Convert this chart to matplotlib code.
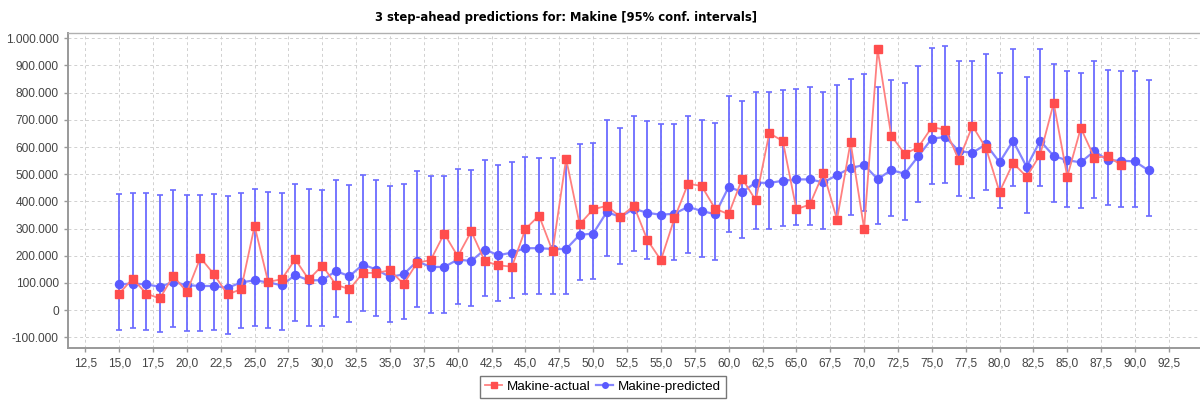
import matplotlib
matplotlib.use("Agg")
import matplotlib.pyplot as plt
from matplotlib.ticker import FuncFormatter, MultipleLocator

plt.rcParams["font.family"] = ["Liberation Sans", "DejaVu Sans"]

# observed values, periods 15..89
actual_x = list(range(15, 90))
actual = [
    61, 116, 61, 43, 126, 67, 193, 132, 58, 77,
    310, 104, 114, 187, 113, 164, 94, 77, 137, 137,
    147, 96, 175, 184, 282, 198, 290, 180, 165, 160,
    299, 348, 217, 557, 316, 371, 384, 343, 384, 258,
    184, 338, 465, 457, 373, 353, 484, 404, 651, 622,
    371, 389, 506, 333, 618, 300, 959, 642, 575, 599,
    673, 664, 553, 678, 596, 435, 541, 491, 572, 762,
    491, 670, 561, 566, 533,
]

# forecasts with 95% bounds, periods 15..91
pred_x = list(range(15, 92))
predicted = [
    95, 98, 95, 86, 104, 92, 89, 89, 82, 102,
    110, 102, 92, 129, 110, 110, 144, 125, 168, 149,
    122, 132, 180, 159, 159, 186, 181, 223, 202, 212,
    228, 228, 225, 225, 277, 282, 361, 343, 373, 358,
    351, 355, 380, 365, 353, 453, 435, 469, 468, 476,
    481, 481, 470, 497, 523, 534, 482, 515, 502, 566,
    631, 637, 585, 579, 610, 544, 623, 527, 623, 567,
    551, 544, 585, 551, 550, 547, 514,
]
upper = [
    427, 431, 431, 422, 441, 422, 422, 426, 419, 431,
    446, 436, 431, 464, 446, 441, 478, 460, 497, 478,
    457, 464, 511, 493, 493, 520, 515, 553, 534, 544,
    563, 558, 558, 558, 610, 615, 700, 670, 716, 694,
    684, 684, 713, 699, 688, 787, 769, 802, 802, 809,
    815, 819, 802, 829, 852, 867, 820, 847, 836, 899,
    965, 970, 917, 917, 942, 874, 960, 856, 960, 905,
    880, 874, 917, 884, 880, 880, 847,
]
lower = [
    -73, -67, -73, -82, -62, -78, -78, -73, -87, -67,
    -59, -67, -73, -40, -59, -59, -24, -45, -3, -21,
    -45, -34, 12, -9, -9, 21, 16, 53, 34, 44,
    58, 58, 58, 58, 111, 115, 198, 170, 219, 189,
    184, 184, 212, 197, 184, 287, 267, 300, 300, 309,
    315, 315, 300, 329, 351, 366, 316, 347, 333, 398,
    464, 468, 419, 413, 441, 376, 455, 358, 455, 398,
    381, 376, 413, 386, 381, 381, 347,
]

# thousands -> units
actual = [v * 1000 for v in actual]
predicted = [v * 1000 for v in predicted]
upper = [v * 1000 for v in upper]
lower = [v * 1000 for v in lower]

red = "#ff4d4d"
blue = "#5a5aff"

fig = plt.figure(figsize=(12, 4.01), dpi=100)
ax = fig.add_axes([0.0564, 0.1329, 0.9436, 0.7856])

err_lo = [p - l for p, l in zip(predicted, lower)]
err_hi = [u - p for u, p in zip(upper, predicted)]
ax.errorbar(pred_x, predicted, yerr=[err_lo, err_hi], fmt="none",
            ecolor="#6b6bff", elinewidth=1.3, capsize=2.5, capthick=1.2,
            zorder=2)
ax.plot(pred_x, predicted, color="#8585ff", lw=1.6, zorder=3)
ax.plot(pred_x, predicted, ls="none", marker="o", ms=5.8,
        color=blue, zorder=4)
ax.plot(actual_x, actual, color="#ff8080", lw=1.3, zorder=5)
ax.plot(actual_x, actual, ls="none", marker="s", ms=5.8,
        color=red, zorder=6)

ax.set_xlim(11.2, 94.8)
ax.set_ylim(-138000, 1020600)
ax.xaxis.set_major_locator(MultipleLocator(2.5))
ax.yaxis.set_major_locator(MultipleLocator(100000))
ax.xaxis.set_major_formatter(FuncFormatter(lambda v, p: f"{v:.1f}".replace(".", ",")))
ax.yaxis.set_major_formatter(FuncFormatter(lambda v, p: f"{int(round(v)):,}".replace(",", ".")))

ax.grid(True, color="#d0d0d0", ls=(0, (3, 3)), lw=0.7)
ax.set_axisbelow(True)
for side in ["left", "bottom"]:
    ax.spines[side].set_color("#999999")
    ax.spines[side].set_linewidth(1.4)
ax.spines["top"].set_color("#b0b0b0")
ax.spines["top"].set_linewidth(1.0)
ax.spines["right"].set_visible(False)
ax.tick_params(axis="both", colors="#999999", labelcolor="#444444",
               labelsize=8.6, length=3, width=1)
ax.tick_params(axis="x", pad=4)

fig.text(0.4715, 0.957, "3 step-ahead predictions for: Makine [95% conf. intervals]",
         ha="center", va="center", fontsize=9.3, fontweight="bold",
         family="DejaVu Sans", stretch="condensed")

# legend below the axes
h1, = ax.plot([], [], color="#ff8080", lw=1.3, marker="s", ms=4,
              mfc=red, mec=red)
h2, = ax.plot([], [], color="#8585ff", lw=1.6, marker="o", ms=4,
              mfc=blue, mec=blue)
leg = fig.legend([h1, h2], ["Makine-actual", "Makine-predicted"],
                 loc="upper center", bbox_to_anchor=(0.5025, 0.062), ncol=2,
                 frameon=True, fancybox=False, fontsize=9.6,
                 handlelength=1.3, handletextpad=0.35, columnspacing=0.4,
                 borderpad=0.35, borderaxespad=0)
leg.get_frame().set_edgecolor("#555555")
leg.get_frame().set_linewidth(1.0)

fig.savefig("out.png", dpi=100)
